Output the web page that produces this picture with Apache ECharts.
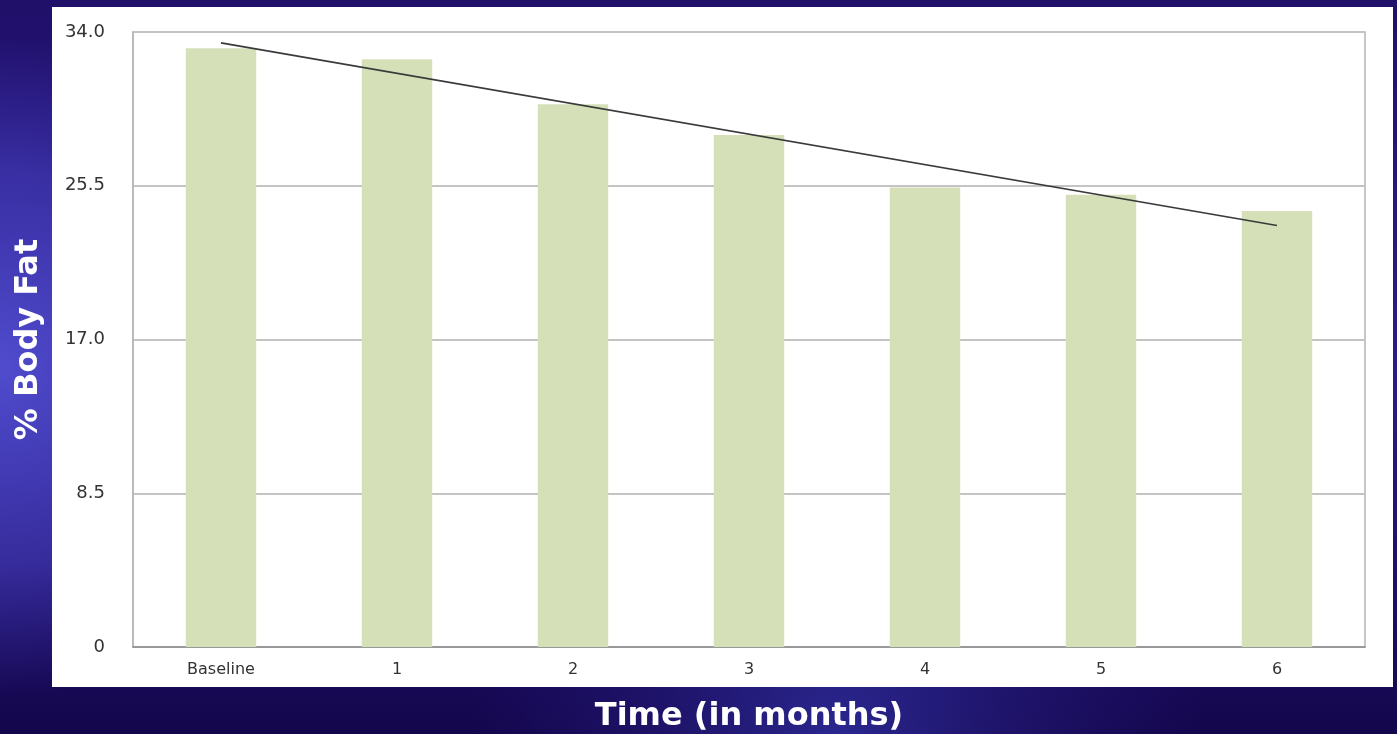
<!DOCTYPE html>
<html>
<head>
<meta charset="utf-8">
<title>% Body Fat over Time</title>
<script src="https://cdn.jsdelivr.net/npm/echarts@6/dist/echarts.min.js"></script>
<style>
  html, body { margin: 0; padding: 0; background: #1a0a5c; }
  #chart { width: 1397px; height: 734px; }
</style>
</head>
<body>
<div id="chart"></div>
<script>
// Measurement months and body-fat percentages
const categories = ['Baseline', '1', '2', '3', '4', '5', '6'];
const bodyFat = [33.1, 32.5, 30.0, 28.3, 25.4, 25.0, 24.1];
// Trend line end points (first and last month)
const trendStart = 33.4;
const trendEnd = 23.3;
const yTicks = [0, 8.5, 17.0, 25.5, 34.0];

const trend = categories.map((c, i) =>
  i === 0 ? trendStart : (i === categories.length - 1 ? trendEnd : null));

const W = 1397, H = 734;
const chart = echarts.init(document.getElementById('chart'), null, { renderer: 'canvas', width: W, height: H });

const FONT = '"DejaVu Sans", Verdana, sans-serif';

chart.setOption({
  animation: false,
  backgroundColor: '#1a0a5c',
  graphic: {
    elements: [
      // deep indigo backdrop
      {
        type: 'rect', z: -30, silent: true,
        shape: { x: 0, y: 0, width: W, height: H },
        style: {
          fill: new echarts.graphic.LinearGradient(0, 0, 0, 1, [
            { offset: 0, color: '#20106a' },
            { offset: 0.5, color: '#2a1c86' },
            { offset: 1, color: '#14064c' }
          ])
        }
      },
      // glow on the left edge
      {
        type: 'rect', z: -29, silent: true,
        shape: { x: 0, y: 0, width: W, height: H },
        style: {
          fill: new echarts.graphic.RadialGradient(0.0, 0.5, 0.45, [
            { offset: 0, color: 'rgba(80,76,205,1)' },
            { offset: 0.6, color: 'rgba(70,62,190,0.6)' },
            { offset: 1, color: 'rgba(60,50,180,0)' }
          ])
        }
      },
      // soft glow along the bottom
      {
        type: 'rect', z: -28, silent: true,
        shape: { x: 0, y: 0, width: W, height: H },
        style: {
          fill: new echarts.graphic.RadialGradient(0.6, 1.0, 0.5, [
            { offset: 0, color: 'rgba(50,50,165,0.75)' },
            { offset: 0.5, color: 'rgba(45,40,150,0.35)' },
            { offset: 1, color: 'rgba(40,30,140,0)' }
          ])
        }
      },
      // white chart panel
      {
        type: 'rect', z: -20, silent: true,
        shape: { x: 52, y: 7, width: 1341, height: 680 },
        style: { fill: '#ffffff' }
      }
    ]
  },
  grid: {
    left: 133, right: 32, top: 32, bottom: 87,
    outerBoundsMode: 'none',
    containLabel: false,
    show: true,
    borderColor: '#b4b4b4',
    borderWidth: 1.5,
    backgroundColor: 'transparent'
  },
  xAxis: {
    type: 'category',
    data: categories,
    name: 'Time (in months)',
    nameLocation: 'middle',
    nameGap: 54,
    nameTextStyle: { color: '#ffffff', fontSize: 32, fontWeight: 'bold', fontFamily: FONT },
    axisLine: { show: true, lineStyle: { color: '#8a8a8a', width: 1.5 } },
    axisTick: { show: false },
    axisLabel: { color: '#333333', fontSize: 16, fontFamily: FONT, margin: 15 },
    splitLine: { show: false }
  },
  yAxis: {
    type: 'value',
    min: 0, max: 34, interval: 8.5,
    name: '% Body Fat',
    nameLocation: 'middle',
    nameGap: 88,
    nameRotate: 90,
    nameTextStyle: { color: '#ffffff', fontSize: 32, fontWeight: 'bold', fontFamily: FONT },
    axisLine: { show: true, lineStyle: { color: '#b4b4b4', width: 1.5 } },
    axisTick: { show: false },
    axisLabel: {
      color: '#333333', fontSize: 18, fontFamily: FONT, margin: 28,
      formatter: v => (v === 0 ? '0' : (yTicks.indexOf(v) >= 0 ? v.toFixed(1) : ''))
    },
    splitLine: { show: true, lineStyle: { color: '#c4c4c4', width: 2 } }
  },
  series: [
    {
      type: 'bar',
      data: bodyFat,
      barWidth: '40%',
      itemStyle: { color: '#d5e0b8' },
      z: 2
    },
    {
      type: 'line',
      data: trend,
      connectNulls: true,
      symbol: 'none',
      lineStyle: { color: '#3a3a3a', width: 1.6 },
      z: 3
    }
  ]
});
</script>
</body>
</html>
